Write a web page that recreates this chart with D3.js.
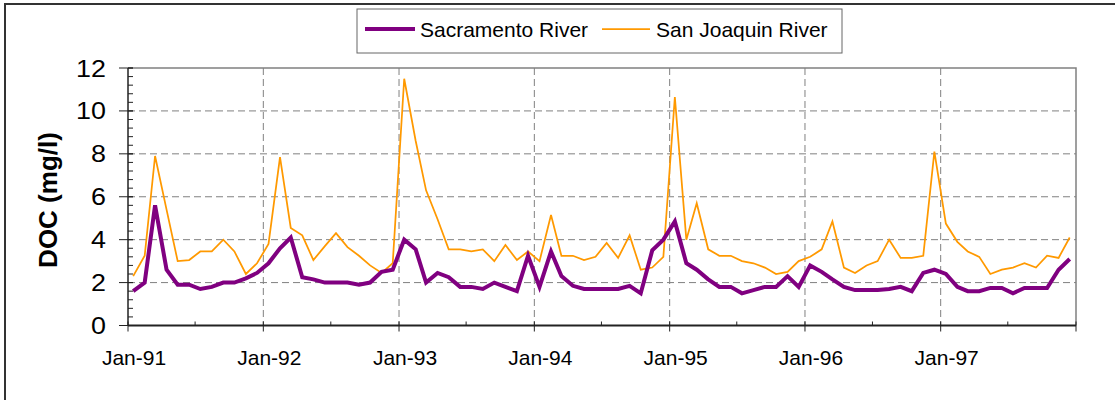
<!DOCTYPE html>
<html>
<head>
<meta charset="utf-8">
<script src="https://cdn.jsdelivr.net/npm/d3@7"></script>
<style>
  body { margin: 0; background: #fff; }
  svg { display: block; font-family: "Liberation Sans", Arial, sans-serif; }
</style>
</head>
<body>
<svg id="chart" width="1115" height="400"></svg>
<script>
const sacramento = [
  1.6, 2.0, 5.6, 2.6, 1.9, 1.9, 1.7, 1.8, 2.0, 2.0, 2.2, 2.45,
  2.9, 3.6, 4.1, 2.25, 2.15, 2.0, 2.0, 2.0, 1.9, 2.0, 2.5, 2.6,
  4.0, 3.55, 2.0, 2.45, 2.25, 1.8, 1.8, 1.7, 2.0, 1.8, 1.6, 3.25,
  1.8, 3.45, 2.3, 1.85, 1.7, 1.7, 1.7, 1.7, 1.85, 1.5, 3.5, 4.0,
  4.85, 2.9, 2.6, 2.15, 1.8, 1.8, 1.5, 1.65, 1.8, 1.8, 2.3, 1.8,
  2.8, 2.5, 2.15, 1.8, 1.65, 1.65, 1.65, 1.7, 1.8, 1.6, 2.45, 2.6,
  2.4, 1.8, 1.6, 1.6, 1.75, 1.75, 1.5, 1.75, 1.75, 1.75, 2.6, 3.1
];
const sanJoaquin = [
  2.3, 3.25, 7.9, 5.4, 3.0, 3.05, 3.45, 3.45, 4.0, 3.45, 2.4, 2.9,
  3.8, 7.85, 4.55, 4.2, 3.05, 3.7, 4.3, 3.65, 3.25, 2.8, 2.45, 2.9,
  11.5, 8.6, 6.3, 4.95, 3.55, 3.55, 3.45, 3.55, 3.0, 3.75, 3.05, 3.45,
  3.0, 5.15, 3.25, 3.25, 3.05, 3.2, 3.85, 3.15, 4.2, 2.6, 2.7, 3.2,
  10.65, 4.0, 5.7, 3.55, 3.25, 3.25, 3.0, 2.9, 2.7, 2.4, 2.5, 3.0,
  3.2, 3.55, 4.85, 2.7, 2.45, 2.8, 3.0, 4.0, 3.15, 3.15, 3.25, 8.1,
  4.75, 3.9, 3.45, 3.2, 2.4, 2.6, 2.7, 2.9, 2.7, 3.25, 3.15, 4.1
];
// one sample per month, mid-month, starting Jan 1991
const months = sacramento.map((d, i) => new Date(1991, i, 15));
const yearTicks = d3.range(1991, 1998).map(y => new Date(y, 0, 1));
const yTicks = [0, 2, 4, 6, 8, 10, 12];

const series = [
  { name: "Sacramento River", values: sacramento, color: "#800080", width: 4 },
  { name: "San Joaquin River", values: sanJoaquin, color: "#FF9900", width: 1.75 }
];

const svg = d3.select("#chart");
const plot = { left: 128, right: 1076, top: 68, bottom: 325.5 };

const x = d3.scaleTime()
  .domain([new Date(1991, 0, 1), new Date(1998, 0, 1)])
  .range([plot.left, plot.right]);
const y = d3.scaleLinear().domain([0, 12]).range([plot.bottom, plot.top]);

// outer chart border (only top and left visible)
svg.append("path")
  .attr("d", "M5,400 L5,4 L1115,4")
  .attr("fill", "none")
  .attr("stroke", "#333")
  .attr("stroke-width", 2);

// grid
svg.append("g")
  .selectAll("line")
  .data(yTicks.filter(v => v > 0 && v < 12))
  .join("line")
  .attr("x1", plot.left).attr("x2", plot.right)
  .attr("y1", d => y(d)).attr("y2", d => y(d))
  .attr("stroke", "#808080")
  .attr("stroke-dasharray", "7,4");

svg.append("g")
  .selectAll("line")
  .data(yearTicks.slice(1))
  .join("line")
  .attr("x1", d => x(d)).attr("x2", d => x(d))
  .attr("y1", plot.top).attr("y2", plot.bottom)
  .attr("stroke", "#808080")
  .attr("stroke-dasharray", "7,4");

// plot area border (top & right)
svg.append("path")
  .attr("d", `M${plot.left},${plot.top} L${plot.right},${plot.top} L${plot.right},${plot.bottom}`)
  .attr("fill", "none")
  .attr("stroke", "#808080")
  .attr("stroke-width", 1.5);

// lines
const line = d3.line()
  .x((d, i) => x(months[i]))
  .y(d => y(d));

svg.append("g")
  .selectAll("path")
  .data(series.slice().reverse())
  .join("path")
  .attr("d", d => line(d.values))
  .attr("fill", "none")
  .attr("stroke", d => d.color)
  .attr("stroke-width", d => d.width)
  .attr("stroke-linejoin", "miter");

// y axis
const yAxis = svg.append("g");
yAxis.append("line")
  .attr("x1", plot.left).attr("x2", plot.left)
  .attr("y1", plot.top).attr("y2", plot.bottom)
  .attr("stroke", "#222").attr("stroke-width", 1.5);
yAxis.selectAll(".minor")
  .data(d3.range(0, 12.01, 0.4))
  .join("line")
  .attr("class", "minor")
  .attr("x1", plot.left).attr("x2", plot.left + 5)
  .attr("y1", d => y(d)).attr("y2", d => y(d))
  .attr("stroke", "#222");
yAxis.selectAll(".major")
  .data(yTicks)
  .join("line")
  .attr("class", "major")
  .attr("x1", plot.left - 9).attr("x2", plot.left + 5)
  .attr("y1", d => y(d)).attr("y2", d => y(d))
  .attr("stroke", "#222");
yAxis.selectAll("text")
  .data(yTicks)
  .join("text")
  .attr("transform", d => `translate(106,${y(d) + 8.5}) scale(1.12,1)`)
  .attr("text-anchor", "end")
  .attr("font-size", 24)
  .attr("fill", "#000")
  .text(d => d);

// x axis
const xAxis = svg.append("g");
xAxis.append("line")
  .attr("x1", plot.left).attr("x2", plot.right)
  .attr("y1", plot.bottom).attr("y2", plot.bottom)
  .attr("stroke", "#222").attr("stroke-width", 2);
xAxis.selectAll(".minor")
  .data(d3.range(1991, 1998).map(yy => new Date(yy, 6, 1)))
  .join("line")
  .attr("class", "minor")
  .attr("x1", d => x(d)).attr("x2", d => x(d))
  .attr("y1", plot.bottom - 4).attr("y2", plot.bottom)
  .attr("stroke", "#222");
xAxis.selectAll(".major")
  .data(yearTicks.concat([new Date(1998, 0, 1)]))
  .join("line")
  .attr("class", "major")
  .attr("x1", d => x(d)).attr("x2", d => x(d))
  .attr("y1", plot.bottom - 4).attr("y2", plot.bottom + 6)
  .attr("stroke", "#222");
const fmt = d3.timeFormat("%b-%y");
xAxis.selectAll("text")
  .data(yearTicks)
  .join("text")
  .attr("x", d => x(d) + 6)
  .attr("y", 365)
  .attr("text-anchor", "middle")
  .attr("font-size", 21)
  .attr("fill", "#000")
  .text(d => fmt(d));

// y label
svg.append("text")
  .attr("transform", "translate(57,200) rotate(-90)")
  .attr("text-anchor", "middle")
  .attr("font-size", 26)
  .attr("font-weight", "bold")
  .attr("fill", "#000")
  .text("DOC (mg/l)");

// legend
const legend = svg.append("g");
legend.append("rect")
  .attr("x", 357).attr("y", 9)
  .attr("width", 485).attr("height", 44)
  .attr("fill", "#fff")
  .attr("stroke", "#666");
const legendX = [365, 602];
const item = legend.selectAll(".item")
  .data(series)
  .join("g")
  .attr("class", "item")
  .attr("transform", (d, i) => `translate(${legendX[i]},29)`);
item.append("line")
  .attr("x1", 0).attr("x2", (d, i) => i === 0 ? 50 : 48)
  .attr("stroke", d => d.color)
  .attr("stroke-width", d => d.width);
item.append("text")
  .attr("x", (d, i) => i === 0 ? 55 : 54)
  .attr("y", 8)
  .attr("font-size", 21)
  .attr("fill", "#000")
  .text(d => d.name);
</script>
</body>
</html>
